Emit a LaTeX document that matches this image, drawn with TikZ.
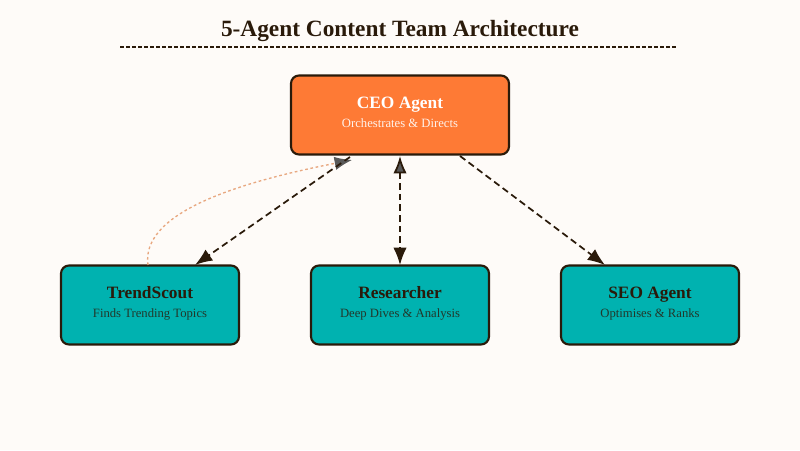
\documentclass[tikz,border=0pt]{standalone}
\usepackage{fontspec}
\setmainfont{Liberation Serif}
\usetikzlibrary{arrows.meta}
\definecolor{bg}{HTML}{FEFBF8}
\definecolor{ceo}{HTML}{FE7A35}
\definecolor{teal}{HTML}{00B2B0}
\definecolor{dk}{HTML}{2A1A0A}
\definecolor{peach}{HTML}{E8A880}
\begin{document}
\begin{tikzpicture}[x=0.75pt,y=-0.75pt,
 box/.style={draw=dk,line width=1.6pt,rounded corners=6pt,minimum width=178*0.75pt,minimum height=79*0.75pt,align=center,font=\fontsize{9.5}{11}\selectfont},
 con/.style={draw=dk,line width=1.3pt,dash pattern=on 5pt off 3pt,-{Latex[length=13pt,width=10pt]}}]
\fill[bg] (0,0) rectangle (800,450);
\useasboundingbox (0,0) rectangle (800,450);
\node[font=\fontsize{17.5}{19}\selectfont\bfseries,text=dk] (t) at (400,31) {5-Agent Content Team Architecture};
\coordinate (l1) at (120,47); \coordinate (l2) at (678,47);
\draw[dk,dash pattern=on 3pt off 1.5pt,line width=0.8pt] (l1) -- (l2);
\node[box,fill=ceo,minimum width=218*0.75pt,text=white] (ceo) at (400,115) {{\fontsize{13}{15}\selectfont\bfseries CEO Agent}\\[3pt]{\color{white!90!ceo}Orchestrates \& Directs}\\[-6.5pt]};
\node[box,fill=teal] (ts) at (150,305) {{\fontsize{13}{15}\selectfont\bfseries\color{dk} TrendScout}\\[3pt]{\color{dk!80!teal}Finds Trending Topics}\\[-6.5pt]};
\node[box,fill=teal] (rs) at (400,305) {{\fontsize{13}{15}\selectfont\bfseries\color{dk} Researcher}\\[3pt]{\color{dk!80!teal}Deep Dives \& Analysis}\\[-6.5pt]};
\node[box,fill=teal] (seo) at (650,305) {{\fontsize{13}{15}\selectfont\bfseries\color{dk} SEO Agent}\\[3pt]{\color{dk!80!teal}Optimises \& Ranks}\\[-6.5pt]};
\coordinate (a1) at (350,157); \coordinate (a2) at (195,265);
\coordinate (b1) at (400,156); \coordinate (b2) at (400,265);
\coordinate (c1) at (460,156); \coordinate (c2) at (605,265);
\coordinate (d1) at (148,265); \coordinate (d2) at (352,160);
\draw[peach,line width=1pt,dash pattern=on 2pt off 2pt,-{Latex[length=13pt,width=10pt,fill=gray!70!black,color=gray!70!black]}] (d1) .. controls (140,210) and (250,180) .. (d2);
\draw[con] (a1) -- (a2);
\draw[con,{Latex[length=13pt,width=10pt,fill=gray!70!black]}-{Latex[length=13pt,width=10pt]}] (b1) -- (b2);
\draw[con] (c1) -- (c2);
\end{tikzpicture}
\end{document}
